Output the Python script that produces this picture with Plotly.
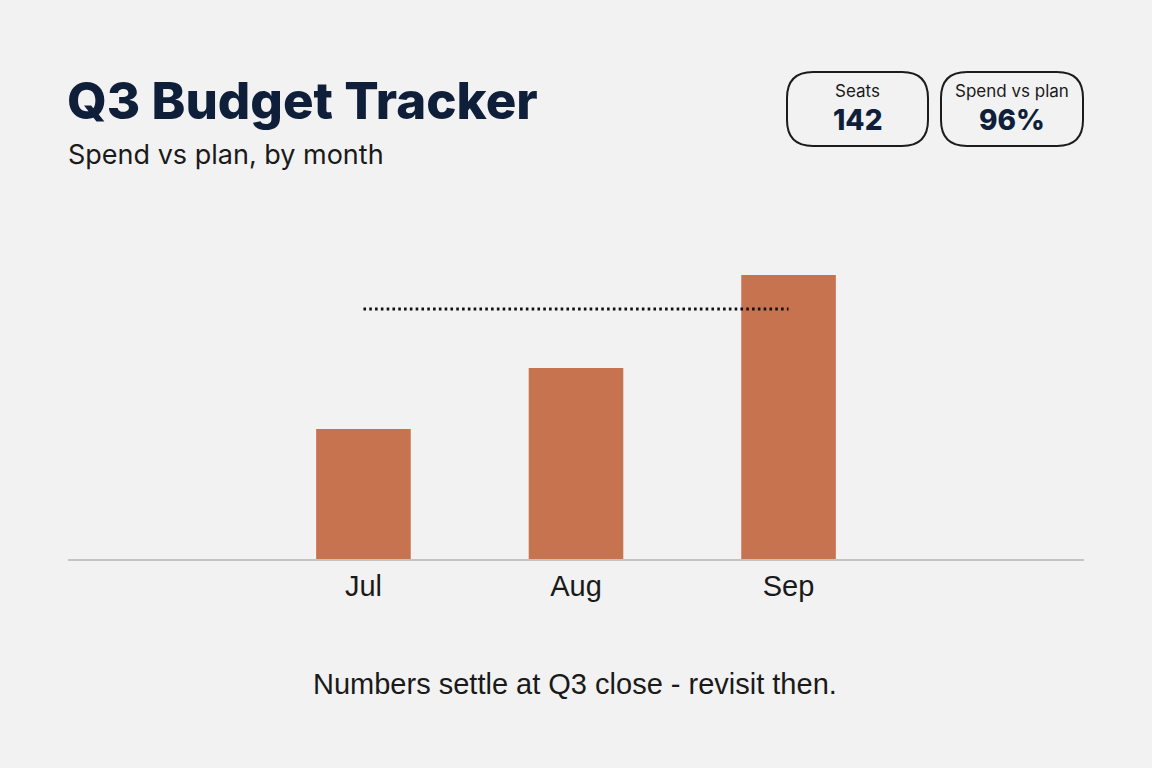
import plotly.graph_objects as go

months = ["Jul", "Aug", "Sep"]
spend = [52, 76.4, 113.6]
plan = [100, 100, 100]
kpi_labels = ["Seats", "Spend vs plan"]
kpi_values = ["142", "96%"]

W, H = 1152, 768
L, R, T, B = 68, 1084, 200, 559

def px(x):
    return (x - L) / (R - L)

def py(y):
    return (B - y) / (B - T)

fig = go.Figure()
fig.add_trace(go.Bar(x=months, y=spend, marker=dict(color="#c8734f", line=dict(width=0)),
                     width=0.445, hoverinfo="skip"))
fig.add_trace(go.Scatter(x=months, y=plan, mode="lines",
                         line=dict(color="#111111", width=2.8, dash="2.6px,3.2px"), hoverinfo="skip"))

shapes = []
cards = [(787, 72, 928, 146), (941, 72, 1083, 146)]
r = 26
for (x0, y0, x1, y1) in cards:
    pts = [
        ("M", (x0 + r, y0)), ("L", (x1 - r, y0)), ("Q", (x1, y0), (x1, y0 + r)),
        ("L", (x1, y1 - r)), ("Q", (x1, y1), (x1 - r, y1)),
        ("L", (x0 + r, y1)), ("Q", (x0, y1), (x0, y1 - r)),
        ("L", (x0, y0 + r)), ("Q", (x0, y0), (x0 + r, y0)),
    ]
    d = ""
    for p in pts:
        cmd = p[0]
        coords = " ".join(f"{px(a):.5f},{py(b):.5f}" for a, b in p[1:])
        d += f"{cmd} {coords} "
    d += "Z"
    shapes.append(dict(type="path", xref="paper", yref="paper", path=d,
                       line=dict(color="#1c1c1c", width=2), fillcolor="rgba(0,0,0,0)"))

annotations = [
    dict(text="Q3 Budget Tracker", x=px(65), y=py(101), xref="paper", yref="paper",
         xanchor="left", yanchor="middle", showarrow=False,
         font=dict(family="Inter", size=51, color="#0f1f3a", weight=800)),
    dict(text="Spend vs plan, by month", x=px(66), y=py(155), xref="paper", yref="paper",
         xanchor="left", yanchor="middle", showarrow=False,
         font=dict(family="Inter", size=27, color="#1a1a1a")),
    dict(text="Numbers settle at Q3 close - revisit then.", x=px(575), y=py(684), xref="paper", yref="paper",
         xanchor="center", yanchor="middle", showarrow=False,
         font=dict(family="Liberation Sans", size=29, color="#1a1a1a")),
]
for (x0, y0, x1, y1), lab, val in zip(cards, kpi_labels, kpi_values):
    cx = (x0 + x1) / 2
    annotations.append(dict(text=lab, x=px(cx), y=py(91), xref="paper", yref="paper",
                            xanchor="center", yanchor="middle", showarrow=False,
                            font=dict(family="Inter", size=17, color="#1a1a1a")))
    annotations.append(dict(text=val, x=px(cx), y=py(120), xref="paper", yref="paper",
                            xanchor="center", yanchor="middle", showarrow=False,
                            font=dict(family="Inter", size=28, color="#0f1f3a", weight=800)))

fig.update_layout(
    width=W, height=H,
    margin=dict(l=L, r=W - R, t=T, b=H - B, pad=0),
    paper_bgcolor="#f2f2f2", plot_bgcolor="#f2f2f2",
    showlegend=False,
    xaxis=dict(type="category", range=[-1.39, 3.39], showgrid=False, zeroline=False,
               showline=True, linecolor="#c4c4c4", linewidth=1.5, ticks="", ticklen=0,
               tickfont=dict(family="Liberation Sans", size=29, color="#1a1a1a"), fixedrange=True),
    yaxis=dict(range=[0, (B - T) / 2.5], showgrid=False, zeroline=False, showline=False,
               showticklabels=False, fixedrange=True),
    shapes=shapes, annotations=annotations,
)

fig.write_html("out.html", config={"displayModeBar": False},
               post_script="document.body.style.margin='0';document.body.style.background='#f2f2f2';document.documentElement.style.background='#f2f2f2';")
